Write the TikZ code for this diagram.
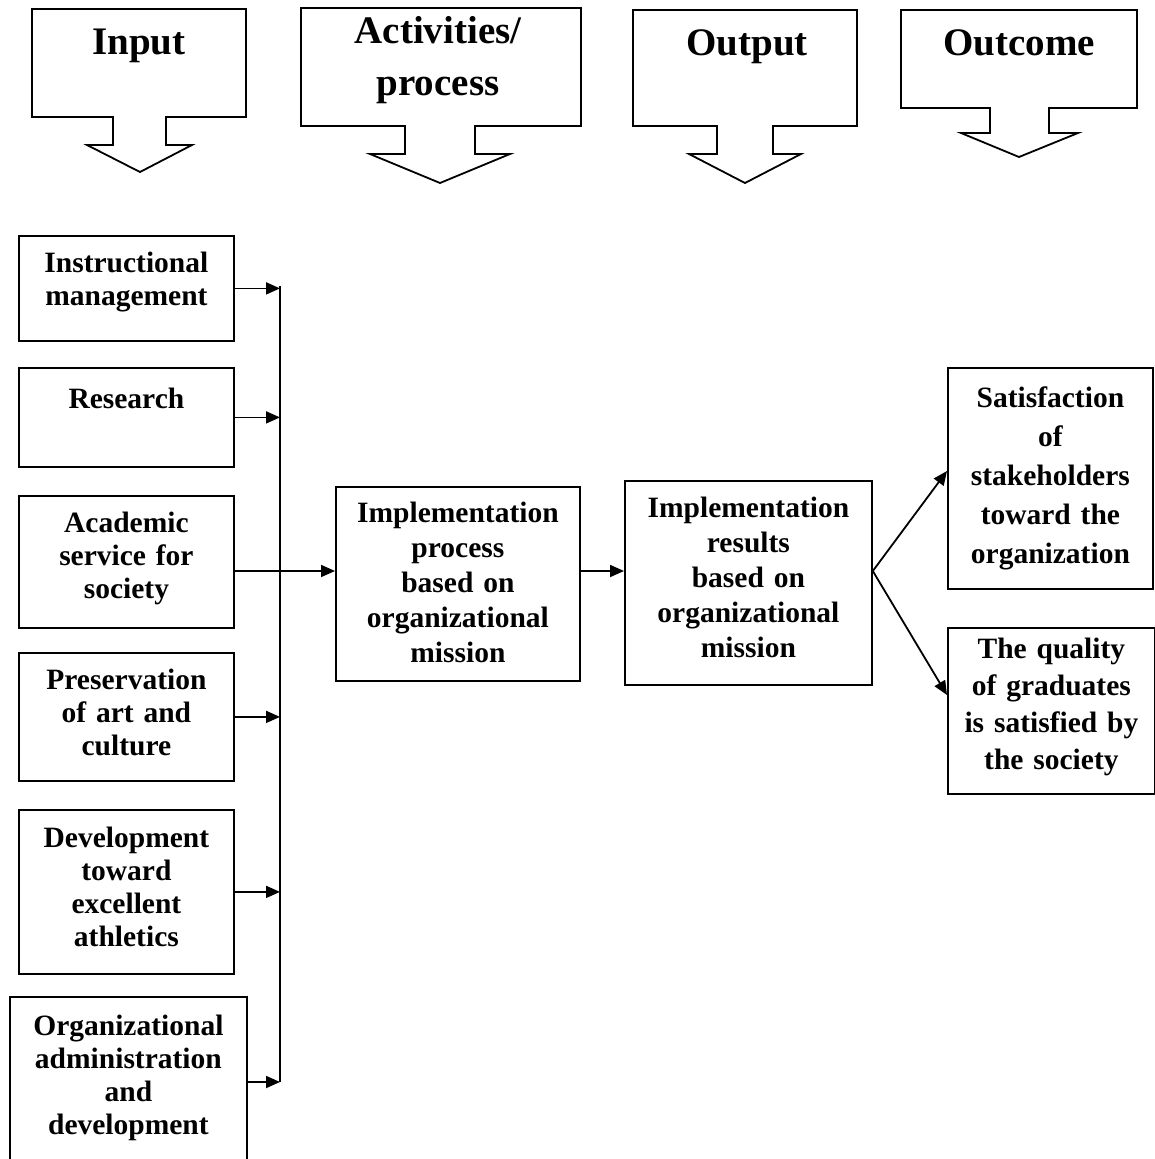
\documentclass[tikz,border=0pt]{standalone}
\usepackage{fontspec}
\setmainfont{Liberation Serif}
\usetikzlibrary{arrows.meta}

\tikzset{
  head/.style={font=\fontsize{39}{52}\selectfont\bfseries, text width=270pt, align=center, anchor=base, inner sep=0pt},
  box/.style={draw, line width=1.8pt, anchor=north west, align=center, inner sep=0pt, font=\fontsize{29.5}{33}\selectfont\bfseries},
  callout/.style={draw, line width=1.8pt, line join=miter},
  arr/.style={-{Triangle[length=14pt,width=12pt]}, line width=1.8pt}
}

\begin{document}
\begin{tikzpicture}[x=1pt, y=-1pt]
\useasboundingbox (0,0) rectangle (1155,1159);
\clip (0,0) rectangle (1155,1159);

% Header callouts
\draw[callout] (32,9) -- (246,9) -- (246,117) -- (166,117) -- (166,145) -- (192,145) -- (140,172)
  -- (87,145) -- (113,145) -- (113,117) -- (32,117) -- cycle;
\node[head] (hin) at (139,54) {Input};

\draw[callout] (301,8) -- (581,8) -- (581,126) -- (475,126) -- (475,154) -- (510,154) -- (440,183)
  -- (370,154) -- (405,154) -- (405,126) -- (301,126) -- cycle;
\node[head] (hact) at (438,43) {Activities/\\process};

\draw[callout] (633,10) -- (857,10) -- (857,126) -- (773,126) -- (773,154) -- (801,154) -- (745,183)
  -- (689,154) -- (717,154) -- (717,126) -- (633,126) -- cycle;
\node[head] (hout) at (747,55) {Output};

\draw[callout] (901,10) -- (1137,10) -- (1137,108) -- (1049,108) -- (1049,133) -- (1078,133) -- (1019,157)
  -- (961,133) -- (990,133) -- (990,108) -- (901,108) -- cycle;
\node[head] (hoc) at (1019,55) {Outcome};

% Input boxes
\node[box, text width=215pt, text height=37pt, text depth=68pt] (instr) at (18,235) {Instructional\\management};
\node[box, text width=215pt, text height=41pt, text depth=58pt] (res) at (18,367) {Research};
\node[box, text width=215pt, text height=37pt, text depth=95pt] (acad) at (18,495) {Academic\\service for\\society};
\node[box, text width=215pt, text height=37pt, text depth=91pt] (pres) at (18,652) {Preservation\\of art and\\culture};
\node[box, text width=215pt, text height=38pt, text depth=126pt] (dev) at (18,809) {Development\\toward\\excellent\\athletics};
\node[box, text width=237pt, text height=39pt, text depth=140pt] (admin) at (9,996) {Organizational\\administration\\and\\development};

% Process and output
\node[box, text width=244pt, text height=36pt, text depth=158pt, font=\fontsize{29.5}{35}\selectfont\bfseries] (proc) at (335,486)
  {Implementation\\process\\based on\\organizational\\mission};
\node[box, text width=247pt, text height=37pt, text depth=167pt, font=\fontsize{29.5}{35}\selectfont\bfseries] (result) at (624,480)
  {Implementation\\results\\based on\\organizational\\mission};

% Outcomes
\node[box, text width=205pt, text height=40pt, text depth=181pt, font=\fontsize{29.5}{39}\selectfont\bfseries] (sat) at (947,367)
  {Satisfaction\\of\\stakeholders\\toward the\\organization};
\node[box, text width=207pt, text height=31pt, text depth=135pt, font=\fontsize{29.5}{37}\selectfont\bfseries] (qual) at (947,627)
  {The quality\\of graduates\\is satisfied by\\the society};

% Connectors
\coordinate (bustop) at (280,286);
\coordinate (busbot) at (280,1082);
\coordinate (mid) at (0,571);
\draw[line width=1.8pt] (bustop) -- (busbot);
\draw[arr] (instr.east) -- (instr.east -| bustop);
\draw[arr] (res.east) -- (res.east -| bustop);
\draw[arr] (pres.east) -- (pres.east -| bustop);
\draw[arr] (dev.east) -- (dev.east -| bustop);
\draw[arr] (admin.east |- busbot) -- (busbot);
\draw[arr] (acad.east |- mid) -- (proc.west |- mid);
\draw[arr] (proc.east |- mid) -- (result.west |- mid);
\draw[arr] (result.east |- mid) -- (sat.west |- 0,471);
\draw[arr] (result.east |- mid) -- (qual.west |- 0,695);
\end{tikzpicture}
\end{document}
